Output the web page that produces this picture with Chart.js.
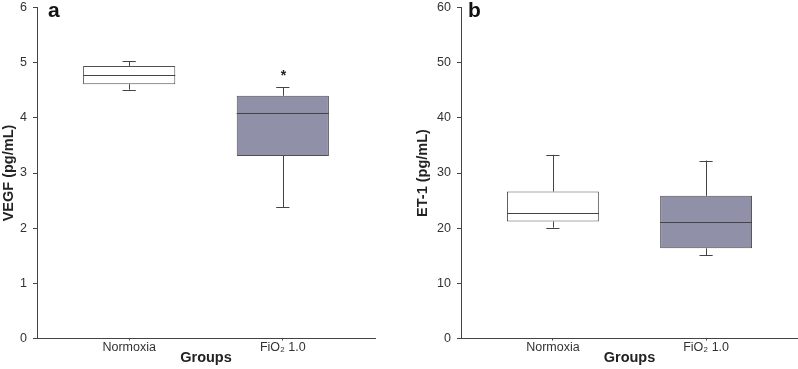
<!DOCTYPE html>
<html>
<head>
<meta charset="utf-8">
<script src="https://cdn.jsdelivr.net/npm/chart.js@4"></script>
<style>
  body { margin: 0; background: #fff; overflow: hidden; }
  .panel { position: absolute; top: -6px; height: 375px; }
  .letter { position: absolute; font: bold 21px "Liberation Sans", Arial, sans-serif; line-height: 21px; color: #111; }
</style>
</head>
<body>
<div class="panel" style="left:0; width:400px;"><canvas id="chart_vegf"></canvas></div>
<div class="panel" style="left:400px; width:398px;"><canvas id="chart_et1"></canvas></div>
<div class="letter" style="left:48px; top:-1px;">a</div>
<div class="letter" style="left:468px; top:-1px;">b</div>
<script>
var categories = ['Normoxia', 'FiO\u2082 1.0'];
var categoryX = [0, 1];
var boxColors = ['#ffffff', '#9090a8'];

// panel a: VEGF (pg/mL)
var vegfMin = [4.51, 2.38];
var vegfQ1 = [4.61, 3.31];
var vegfMedian = [4.78, 4.08];
var vegfQ3 = [4.94, 4.40];
var vegfMax = [5.03, 4.56];
var vegfStar = [null, 4.81];

// panel b: ET-1 (pg/mL)
var et1Min = [20.1, 15.1];
var et1Q1 = [21.2, 16.35];
var et1Median = [22.7, 21.2];
var et1Q3 = [26.65, 25.86];
var et1Max = [33.3, 32.26];
var et1Star = [null, null];

var fontFamily = '"Liberation Sans", Arial, sans-serif';
var lineColor = '#444444';

var boxWhiskers = {
    id: 'boxWhiskers',
    afterDatasetsDraw: (chart, args, opts) => {
        const ctx = chart.ctx;
        const xs = chart.scales.x, ys = chart.scales.y;
        ctx.save();
        ctx.strokeStyle = lineColor;
        ctx.lineWidth = 1;
        categoryX.forEach((cx, i) => {
            const half = 0.3, cap = 0.043;
            const px = Math.round(xs.getPixelForValue(cx)) + 0.5;
            const line = (x1, y1, x2, y2) => {
                ctx.beginPath(); ctx.moveTo(x1, y1); ctx.lineTo(x2, y2); ctx.stroke();
            };
            // whiskers
            line(px, ys.getPixelForValue(opts.q3[i]), px, ys.getPixelForValue(opts.max[i]));
            line(px, ys.getPixelForValue(opts.q1[i]), px, ys.getPixelForValue(opts.min[i]));
            // caps
            [opts.max[i], opts.min[i]].forEach(v => {
                const py = Math.round(ys.getPixelForValue(v)) + 0.5;
                line(xs.getPixelForValue(cx - cap), py, xs.getPixelForValue(cx + cap), py);
            });
            // median
            const my = Math.round(ys.getPixelForValue(opts.median[i])) + 0.5;
            line(xs.getPixelForValue(cx - half), my, xs.getPixelForValue(cx + half), my);
            // significance mark
            if (opts.star[i] != null) {
                ctx.fillStyle = '#222';
                ctx.font = 'bold 14px ' + fontFamily;
                ctx.textAlign = 'center';
                ctx.textBaseline = 'middle';
                ctx.fillText('*', px, ys.getPixelForValue(opts.star[i]) + 3);
            }
        });
        ctx.restore();
    }
};

function makeChart(id, yTitle, yMax, yStep, mn, q1, med, q3, mx, star, padLeft, padRight, yWidth) {
    return new Chart(document.getElementById(id), {
        type: 'bar',
        data: {
            datasets: [{
                data: categoryX.map((x, i) => ({ x: x, y: [q1[i], q3[i]] })),
                backgroundColor: boxColors,
                borderColor: '#505050',
                borderWidth: 1,
                borderSkipped: false,
                barPercentage: 0.6,
                categoryPercentage: 1
            }]
        },
        options: {
            animation: false,
            responsive: true,
            maintainAspectRatio: false,
            layout: { padding: { left: padLeft, right: padRight, top: 0, bottom: 0 } },
            plugins: {
                legend: { display: false },
                tooltip: { enabled: false },
                boxWhiskers: { min: mn, q1: q1, median: med, q3: q3, max: mx, star: star }
            },
            scales: {
                x: {
                    type: 'linear',
                    min: -0.6,
                    max: 1.6,
                    offset: false,
                    afterBuildTicks: (scale) => { scale.ticks = categoryX.map(v => ({ value: v })); },
                    afterFit: (scale) => { scale.height = 30.5; },
                    ticks: {
                        autoSkip: false,
                        maxRotation: 0,
                        padding: 0,
                        color: '#333',
                        font: { family: fontFamily, size: 12.5 },
                        callback: (v) => categories[v]
                    },
                    grid: { offset: false, drawOnChartArea: false, drawTicks: true, tickLength: 2, color: lineColor },
                    border: { display: true, color: lineColor, width: 1 },
                    title: {
                        display: true,
                        text: 'Groups',
                        color: '#222',
                        padding: { top: 0, bottom: 2 },
                        font: { family: fontFamily, size: 14.5, weight: 'bold' }
                    }
                },
                y: {
                    min: 0,
                    max: yMax,
                    afterFit: (scale) => { scale.width = yWidth; },
                    ticks: {
                        stepSize: yStep,
                        padding: 6,
                        color: '#333',
                        font: { family: fontFamily, size: 12.5 }
                    },
                    grid: { drawOnChartArea: false, drawTicks: true, tickLength: 4, color: lineColor },
                    border: { display: true, color: lineColor, width: 1 },
                    title: {
                        display: true,
                        text: yTitle,
                        color: '#222',
                        padding: 0,
                        font: { family: fontFamily, size: 14.5, weight: 'bold' }
                    }
                }
            }
        },
        plugins: [boxWhiskers]
    });
}

var chart_vegf = makeChart('chart_vegf', 'VEGF (pg/mL)', 6, 1,
    vegfMin, vegfQ1, vegfMedian, vegfQ3, vegfMax, vegfStar, 0, 25, 37);
var chart_et1 = makeChart('chart_et1', 'ET-1 (pg/mL)', 60, 10,
    et1Min, et1Q1, et1Median, et1Q3, et1Max, et1Star, 14, 0, 47);
</script>
</body>
</html>
